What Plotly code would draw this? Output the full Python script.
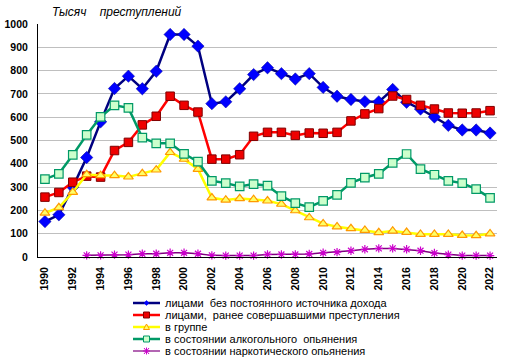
import plotly.graph_objects as go

years = list(range(1990, 2023))

no_income = [152, 181, 300, 427, 580, 723, 776, 722, 797, 955, 955, 905, 658, 666, 722, 783,
             812, 787, 764, 787, 728, 690, 676, 667, 666, 719, 664, 635, 601, 565, 545, 545, 532]
repeat_off = [257, 277, 321, 347, 343, 457, 492, 567, 604, 690, 651, 622, 420, 420, 439, 518,
              535, 535, 522, 532, 531, 535, 584, 614, 637, 691, 676, 651, 635, 618, 617, 618, 628]
in_group = [189, 212, 278, 354, 350, 350, 344, 358, 374, 449, 420, 377, 254, 245, 251, 247,
            241, 227, 199, 169, 143, 130, 122, 115, 105, 112, 106, 98, 98, 98, 93, 92, 100]
alcohol = [334, 357, 438, 524, 601, 651, 640, 512, 488, 488, 443, 409, 327, 317, 303, 313,
           306, 261, 231, 214, 241, 267, 318, 341, 357, 404, 442, 377, 353, 327, 317, 291, 254]
drugs = [None, None, None, 7, 7, 10, 10, 14, 14, 18, 18, 14, 7, 6, 6, 6,
         11, 11, 11, 13, 18, 21, 27, 33, 37, 37, 33, 27, 17, 10, 6, 6, 6]

names = ["лицами  без постоянного источника дохода",
         "лицами,  ранее совершавшими преступления",
         "в группе",
         "в состоянии алкогольного  опьянения",
         "в состоянии наркотического опьянения"]
y_title = "Тысяч    преступлений"
y_ticks = list(range(0, 1001, 100))
x_ticks = list(range(1990, 2023, 2))

styles = [
    dict(line=dict(color="#000080", width=2.5),
         marker=dict(symbol="diamond", size=9.5, color="#0000FF", line=dict(color="#000099", width=0.5))),
    dict(line=dict(color="#FF0000", width=2.5),
         marker=dict(symbol="square", size=8.5, color="#EE0000", line=dict(color="#800000", width=1))),
    dict(line=dict(color="#FFFF00", width=2.5),
         marker=dict(symbol="triangle-up", size=8.5, color="#FFFF66", line=dict(color="#FF9900", width=1.2))),
    dict(line=dict(color="#009966", width=2.5),
         marker=dict(symbol="square", size=8.5, color="#CCFFCC", line=dict(color="#009966", width=1.2))),
    dict(line=dict(color="#800080", width=1.5),
         marker=dict(symbol="asterisk-open", size=7, color="#CC00CC", line=dict(color="#CC00CC", width=1.2))),
]
series = [no_income, repeat_off, in_group, alcohol, drugs]

fig = go.Figure()
for nm, vals, st in zip(names, series, styles):
    fig.add_trace(go.Scatter(x=years, y=vals, name=nm, mode="lines+markers",
                             line=st["line"], marker=st["marker"], showlegend=False,
                             cliponaxis=False))

FONT = "Liberation Sans, Arial, sans-serif"
W, H = 512, 363
L, R, T, B = 38, 15, 24, 106
pw, ph = W - L - R, H - T - B


def px_x(p):  # reference pixel -> paper
    return (p - L) / pw


def px_y(p):
    return (H - B - p) / ph


fig.update_layout(
    width=W, height=H,
    margin=dict(l=L, r=R, t=T, b=B, autoexpand=False),
    paper_bgcolor="white", plot_bgcolor="white",
    font=dict(family=FONT, size=11, color="black"),
    xaxis=dict(range=[1989.5, 2022.5], tickvals=x_ticks, ticktext=[str(v) for v in x_ticks],
               tickangle=-90, showgrid=False, zeroline=False, showline=True, linecolor="black",
               linewidth=1, ticks="", ticklabelstandoff=5, automargin=False,
               tickfont=dict(family=FONT, size=10.5, color="black", weight="bold")),
    yaxis=dict(range=[0, 1000], tickvals=y_ticks, showgrid=True, gridcolor="#BFBFBF", gridwidth=1,
               zeroline=False, showline=True, linecolor="black", linewidth=1, ticks="",
               ticklabelstandoff=7, automargin=False,
               tickfont=dict(family=FONT, size=10.5, color="black", weight="bold")),
)

fig.add_annotation(text=y_title, xref="paper", yref="paper", x=px_x(50), y=px_y(12),
                   xanchor="left", yanchor="middle", showarrow=False,
                   font=dict(family=FONT, size=12, style="italic", color="black"))

# manual legend
rows = [303, 315, 327, 339, 351]
lx0, lx1, lxm, tx = 133, 160, 146.5, 163
shapes = []
for i, (nm, st, ry) in enumerate(zip(names, styles, rows)):
    lw = 2.5 if i < 4 else 1.2
    shapes.append(dict(type="line", xref="paper", yref="paper", x0=px_x(lx0), x1=px_x(lx1),
                       y0=px_y(ry), y1=px_y(ry), line=dict(color=st["line"]["color"], width=lw)))
    fig.add_annotation(text=nm, xref="paper", yref="paper", x=px_x(tx), y=px_y(ry),
                       xanchor="left", yanchor="middle", showarrow=False,
                       font=dict(family=FONT, size=11, color="black"))

ax = px_x(lxm)
common = dict(xref="paper", yref="paper", xsizemode="pixel", ysizemode="pixel")
shapes.append(dict(type="path", xanchor=ax, yanchor=px_y(rows[0]), path="M0,2.5 L2.5,0 L0,-2.5 L-2.5,0 Z",
                   fillcolor="#0000FF", line=dict(color="#0000FF", width=0.5), **common))
shapes.append(dict(type="rect", xanchor=ax, yanchor=px_y(rows[1]), x0=-3, x1=3, y0=-3, y1=3,
                   fillcolor="#EE0000", line=dict(color="#800000", width=1), **common))
shapes.append(dict(type="path", xanchor=ax, yanchor=px_y(rows[2]), path="M-3,-2.5 L3,-2.5 L0,3 Z",
                   fillcolor="#FFFF66", line=dict(color="#FF9900", width=1), **common))
shapes.append(dict(type="rect", xanchor=ax, yanchor=px_y(rows[3]), x0=-3, x1=3, y0=-3, y1=3,
                   fillcolor="#CCFFCC", line=dict(color="#009966", width=1), **common))
shapes.append(dict(type="path", xanchor=ax, yanchor=px_y(rows[4]),
                   path="M-3.5,0 L3.5,0 M-2.5,-3 L2.5,3 M-2.5,3 L2.5,-3 M0,-3.5 L0,3.5",
                   line=dict(color="#CC00CC", width=1), **common))
fig.update_layout(shapes=shapes)

fig.write_html("out.html", config={"displayModeBar": False, "staticPlot": True},
               post_script="document.body.style.margin='0';document.body.style.overflow='hidden';")
